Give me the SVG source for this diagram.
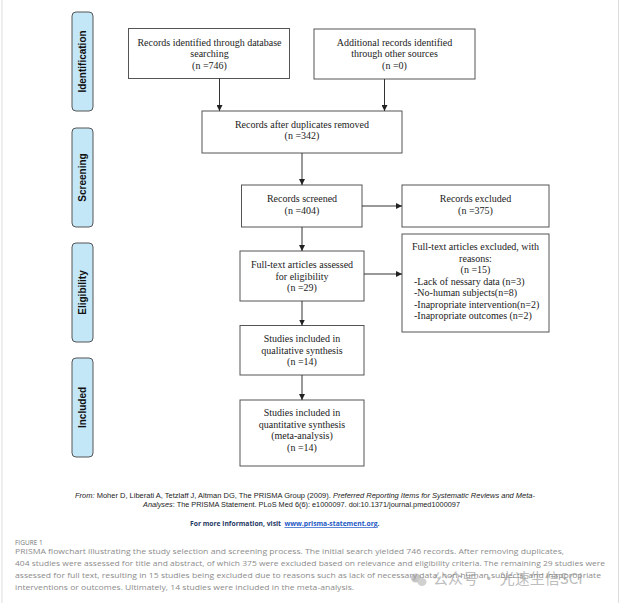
<svg xmlns="http://www.w3.org/2000/svg" width="622" height="603" viewBox="0 0 622 603">
<defs>
<marker id="arr" markerUnits="userSpaceOnUse" markerWidth="6" markerHeight="6" refX="6" refY="3" orient="auto">
<path d="M0,0 L6,3 L0,6 z" fill="#222"/>
</marker>
<style>
.box{fill:#fff;stroke:#555;stroke-width:1}
.side{fill:#c4e7f8;stroke:#555;stroke-width:1}
.t{font-family:"Liberation Serif","Times New Roman",serif;font-size:10px;fill:#222}
.c{text-anchor:middle}
.sl{font-family:"Liberation Sans",Arial,sans-serif;font-size:10px;font-weight:bold;fill:#111;text-anchor:middle}
.ln{stroke:#333;stroke-width:1;fill:none}
.ref{font-family:"Liberation Sans",Arial,sans-serif;font-size:7px;fill:#222}
.more{font-family:"Open Sans","Liberation Sans",sans-serif;font-size:7px;font-weight:bold;fill:#1f3864}
.cap{font-family:"Open Sans","Liberation Sans",sans-serif;font-size:7.5px;fill:#8c8c8c}
</style>
</defs>
<rect width="622" height="603" fill="#fff"/>
<line x1="2" y1="0" x2="2" y2="603" stroke="#ddd" stroke-width="1"/>
<line x1="618.5" y1="0" x2="618.5" y2="603" stroke="#ddd" stroke-width="1"/>

<g id="side-identification"><rect class="side" x="72" y="12" width="21" height="99" rx="4"/><text class="sl" transform="translate(86,61.5) rotate(-90)">Identification</text></g>
<g id="side-screening"><rect class="side" x="72" y="128" width="21" height="99" rx="4"/><text class="sl" transform="translate(86,177.5) rotate(-90)">Screening</text></g>
<g id="side-eligibility"><rect class="side" x="72" y="243" width="21" height="99" rx="4"/><text class="sl" transform="translate(86,292.5) rotate(-90)">Eligibility</text></g>
<g id="side-included"><rect class="side" x="72" y="358" width="21" height="99" rx="4"/><text class="sl" transform="translate(86,407.5) rotate(-90)">Included</text></g>

<g id="n-db"><rect class="box" x="128.5" y="28.5" width="161" height="50"/>
<text class="t c" x="209.5" y="45.5">Records identified through database</text>
<text class="t c" x="209.5" y="57">searching</text>
<text class="t c" x="209.5" y="68.5">(n =746)</text></g>

<g id="n-other"><rect class="box" x="314" y="29" width="161" height="50"/>
<text class="t c" x="394.5" y="45.5">Additional records identified</text>
<text class="t c" x="394.5" y="57">through other sources</text>
<text class="t c" x="394.5" y="68.5">(n =0)</text></g>

<g id="n-dup"><rect class="box" x="202" y="111" width="200" height="42"/>
<text class="t c" x="302" y="127.5">Records after duplicates removed</text>
<text class="t c" x="302" y="139">(n =342)</text></g>

<g id="n-screened"><rect class="box" x="241.5" y="185" width="120.5" height="42"/>
<text class="t c" x="302" y="202">Records screened</text>
<text class="t c" x="302" y="213.5">(n =404)</text></g>

<g id="n-excluded"><rect class="box" x="402" y="185" width="147" height="42"/>
<text class="t c" x="475.5" y="202">Records excluded</text>
<text class="t c" x="475.5" y="213.5">(n =375)</text></g>

<g id="n-fulltext"><rect class="box" x="240" y="251" width="124" height="50"/>
<text class="t c" x="302" y="268">Full-text articles assessed</text>
<text class="t c" x="302" y="279.5">for eligibility</text>
<text class="t c" x="302" y="291">(n =29)</text></g>

<g id="n-ftexcl"><rect class="box" x="402" y="234" width="147" height="98"/>
<text class="t c" x="475.5" y="250">Full-text articles excluded, with</text>
<text class="t c" x="475.5" y="261.5">reasons:</text>
<text class="t c" x="475.5" y="273">(n =15)</text>
<text class="t" x="414" y="284.5">-Lack of nessary data (n=3)</text>
<text class="t" x="414" y="296">-No-human subjects(n=8)</text>
<text class="t" x="414" y="307.5">-Inapropriate intervention(n=2)</text>
<text class="t" x="414" y="319">-Inapropriate outcomes (n=2)</text></g>

<g id="n-qual"><rect class="box" x="240" y="325.5" width="124" height="49.5"/>
<text class="t c" x="302" y="342">Studies included in</text>
<text class="t c" x="302" y="353.5">qualitative synthesis</text>
<text class="t c" x="302" y="365">(n =14)</text></g>

<g id="n-quant"><rect class="box" x="240" y="400" width="124" height="66"/>
<text class="t c" x="302" y="416">Studies included in</text>
<text class="t c" x="302" y="427.5">quantitative synthesis</text>
<text class="t c" x="302" y="439">(meta-analysis)</text>
<text class="t c" x="302" y="450.5">(n =14)</text></g>

<g id="connectors">
<line class="ln" x1="219.5" y1="78.5" x2="219.5" y2="111" marker-end="url(#arr)"/>
<line class="ln" x1="384.5" y1="79" x2="384.5" y2="111" marker-end="url(#arr)"/>
<line class="ln" x1="302" y1="153" x2="302" y2="185" marker-end="url(#arr)"/>
<line class="ln" x1="302" y1="227" x2="302" y2="251" marker-end="url(#arr)"/>
<line class="ln" x1="302" y1="301" x2="302" y2="325.5" marker-end="url(#arr)"/>
<line class="ln" x1="302" y1="375" x2="302" y2="400" marker-end="url(#arr)"/>
<line class="ln" x1="362" y1="206" x2="402" y2="206" marker-end="url(#arr)"/>
<line class="ln" x1="364" y1="274" x2="402" y2="274" marker-end="url(#arr)"/>
</g>

<g id="reference">
<text class="ref" x="75" y="498" textLength="460" lengthAdjust="spacingAndGlyphs"><tspan font-style="italic">From:</tspan>  Moher D, Liberati A, Tetzlaff J, Altman DG, The PRISMA Group (2009). <tspan font-style="italic">Preferred Reporting Items for Systematic Reviews and Meta-</tspan></text>
<text class="ref" x="143" y="507" textLength="317" lengthAdjust="spacingAndGlyphs"><tspan font-style="italic">Analyses</tspan>: The PRISMA Statement. PLoS Med 6(6): e1000097. doi:10.1371/journal.pmed1000097</text>
<text class="more" x="190" y="526" textLength="91" lengthAdjust="spacingAndGlyphs">For more information, visit</text>
<text class="more" x="284.5" y="526" textLength="95" lengthAdjust="spacingAndGlyphs"><tspan style="fill:#1a56c4" text-decoration="underline">www.prisma-statement.org</tspan>.</text>
</g>

<g id="caption">
<text class="cap" x="15" y="544.5" style="font-size:6.5px;fill:#777">FIGURE 1</text>
<text class="cap" x="15" y="554" textLength="549" lengthAdjust="spacingAndGlyphs">PRISMA flowchart illustrating the study selection and screening process. The initial search yielded 746 records. After removing duplicates,</text>
<text class="cap" x="15" y="566" textLength="590" lengthAdjust="spacingAndGlyphs">404 studies were assessed for title and abstract, of which 375 were excluded based on relevance and eligibility criteria. The remaining 29 studies were</text>
<text class="cap" x="15" y="578" textLength="586" lengthAdjust="spacingAndGlyphs">assessed for full text, resulting in 15 studies being excluded due to reasons such as lack of necessary data, non-human subjects, and inappropriate</text>
<text class="cap" x="15" y="589.5" textLength="339" lengthAdjust="spacingAndGlyphs">interventions or outcomes. Ultimately, 14 studies were included in the meta-analysis.</text>
</g>

<g id="watermark" opacity="0.55">
<ellipse cx="416" cy="578" rx="5" ry="4.5" fill="#999"/>
<ellipse cx="422" cy="582" rx="4.5" ry="4" fill="#aaa"/>
<text x="433" y="584" font-family="'Noto Sans CJK SC','Liberation Sans',sans-serif" font-size="15" fill="#888">公众号 · 光速生信SCI</text>
</g>
</svg>
